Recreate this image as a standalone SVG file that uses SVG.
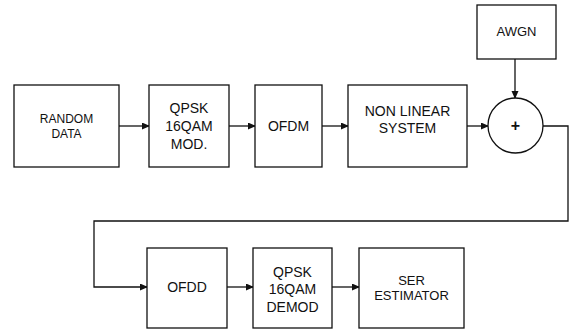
<svg xmlns="http://www.w3.org/2000/svg" width="569" height="329" viewBox="0 0 569 329">
<style>
.b{fill:#fff;stroke:#111;stroke-width:1.3}
.c{fill:none;stroke:#111;stroke-width:1.3}
text{font-family:"Liberation Sans",Arial,sans-serif;font-size:14px;fill:#111;text-anchor:middle}
.s{font-size:12px}
.m{font-size:13px}
.p{font-size:16px;font-weight:bold}
</style>
<defs>
<marker id="ah" markerWidth="8" markerHeight="8" refX="7" refY="3.5" orient="auto" markerUnits="userSpaceOnUse">
<path d="M0,0 L8,3.5 L0,7 Z" fill="#111"/>
</marker>
</defs>
<rect width="569" height="329" fill="#fff"/>
<g id="connectors">
<line class="c" x1="119" y1="126" x2="149" y2="126" marker-end="url(#ah)"/>
<line class="c" x1="229" y1="126" x2="255" y2="126" marker-end="url(#ah)"/>
<line class="c" x1="322" y1="126" x2="348" y2="126" marker-end="url(#ah)"/>
<line class="c" x1="467" y1="126" x2="488" y2="126" marker-end="url(#ah)"/>
<line class="c" x1="515" y1="59" x2="515" y2="98" marker-end="url(#ah)"/>
<polyline class="c" points="543,126 568,126 568,221 94,221 94,287 147,287" marker-end="url(#ah)"/>
<line class="c" x1="227" y1="287" x2="253" y2="287" marker-end="url(#ah)"/>
<line class="c" x1="332" y1="287" x2="359" y2="287" marker-end="url(#ah)"/>
</g>
<g id="random">
<rect class="b" x="14" y="85" width="105" height="82"/>
<text class="s" x="66.5" y="123">RANDOM</text>
<text class="s" x="66.5" y="138">DATA</text>
</g>
<g id="mod">
<rect class="b" x="149" y="85" width="80" height="82"/>
<text x="189" y="113">QPSK</text>
<text x="189" y="131">16QAM</text>
<text x="189" y="149">MOD.</text>
</g>
<g id="ofdm">
<rect class="b" x="255" y="85" width="67" height="82"/>
<text x="288.5" y="131">OFDM</text>
</g>
<g id="nonlinear">
<rect class="b" x="348" y="85" width="119" height="82"/>
<text x="407.5" y="116">NON LINEAR</text>
<text x="407.5" y="133">SYSTEM</text>
</g>
<g id="awgn">
<rect class="b" x="477" y="5" width="79" height="54"/>
<text class="m" x="516.5" y="36">AWGN</text>
</g>
<g id="sum">
<circle class="b" cx="515.5" cy="125.5" r="27.5"/>
<text class="p" x="515.5" y="131">+</text>
</g>
<g id="ofdd">
<rect class="b" x="147" y="248" width="80" height="80"/>
<text x="187" y="292">OFDD</text>
</g>
<g id="demod">
<rect class="b" x="253" y="248" width="79" height="80"/>
<text x="292.5" y="276.5">QPSK</text>
<text x="292.5" y="294">16QAM</text>
<text x="292.5" y="311.5">DEMOD</text>
</g>
<g id="ser">
<rect class="b" x="359" y="248" width="105" height="80"/>
<text class="m" x="411.5" y="285">SER</text>
<text class="m" x="411.5" y="300">ESTIMATOR</text>
</g>
</svg>
